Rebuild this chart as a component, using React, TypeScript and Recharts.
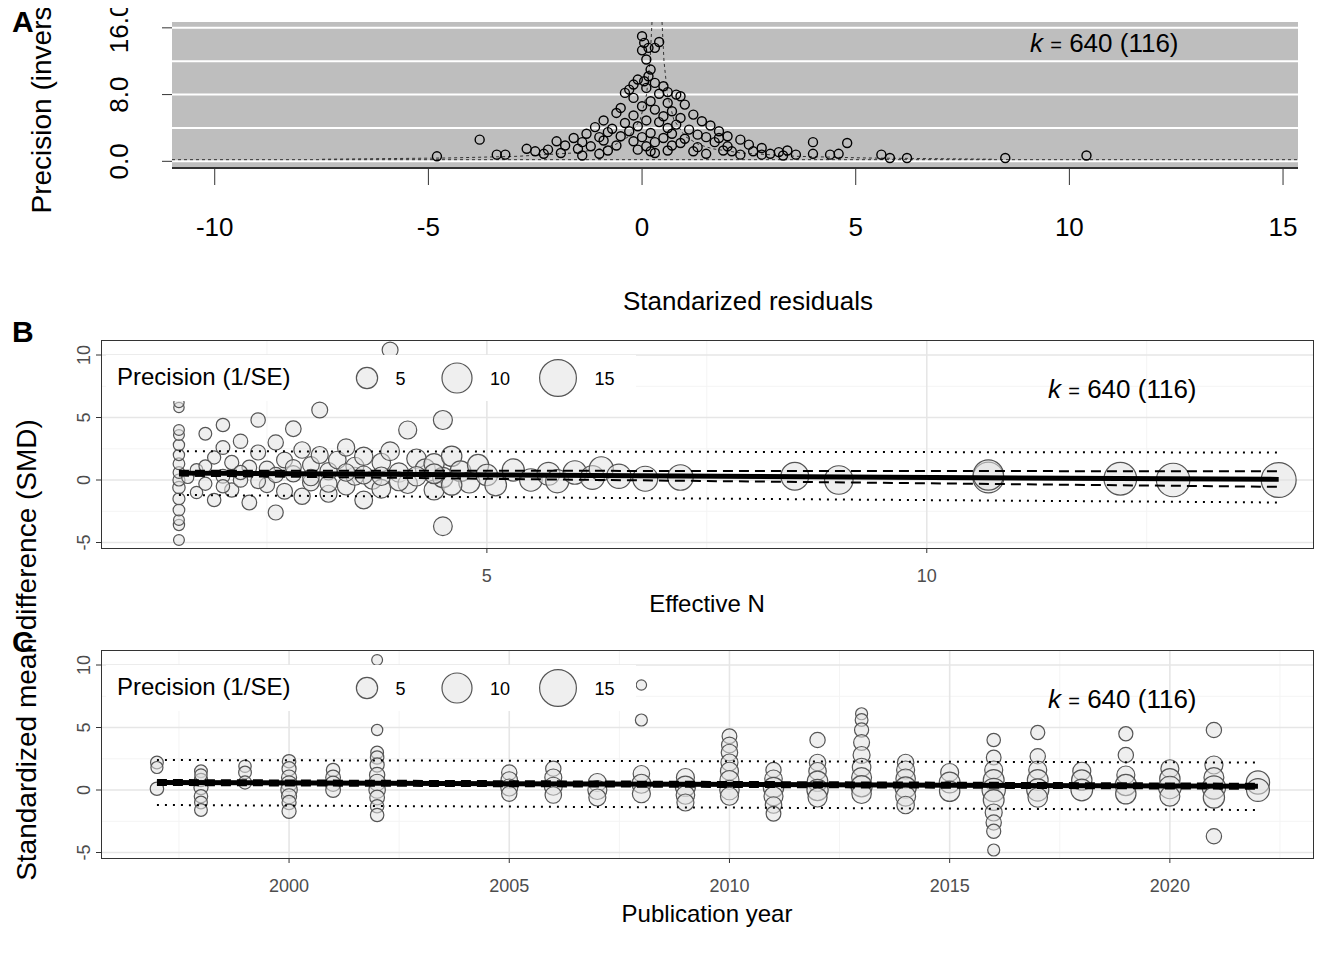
import React from "react";
import {
  ComposedChart,
  Scatter,
  XAxis,
  YAxis,
  ZAxis,
  CartesianGrid,
} from "recharts";

// ---- Panel A: funnel of standardized residuals ----
const residA = [0.0,0.05,0.0,0.15,0.3,0.4,0.1,0.2,0.15,-0.2,-0.1,0.05,0.3,0.5,-0.3,0.6,0.8,0.9,-0.4,0.1,0.4,-0.2,0.2,0.6,1.0,-0.5,0.0,0.3,0.7,1.2,-0.6,-0.2,0.5,0.9,1.4,-0.9,-0.4,0.1,0.4,0.8,1.6,-1.1,-0.7,-0.1,0.6,1.1,1.8,-1.3,-0.8,-0.3,0.2,0.7,1.3,2.0,-1.6,-1.0,-0.5,0.0,0.5,1.0,1.5,2.3,-2.0,-1.4,-0.9,-0.2,0.3,0.9,1.7,2.5,-1.8,-1.2,-0.6,0.1,0.7,1.3,2.0,2.8,-2.2,-1.5,-0.8,-0.1,0.6,1.2,1.9,2.6,3.2,-1.9,-1.0,0.3,1.5,2.3,3.0,3.6,-2.3,-1.4,4.0,4.4,4.6,3.3,2.8,-4.8,-3.8,-3.4,-3.2,-2.7,4.0,4.8,5.6,5.8,6.2,8.5,10.4,0.2,-2.5,1.8,2.1,3.4];
const precA = [15,14.2,13.3,13.6,13.6,14.3,12.2,11,10.2,9.2,9.8,9.6,9.4,9,8.6,8.3,8.0,7.8,8.2,8.8,8.1,7.6,7.2,7.0,6.8,6.4,6.6,6.2,6.0,5.6,5.8,5.5,5.4,5.2,4.8,4.9,4.6,4.9,4.7,4.4,4.3,4.1,3.9,4.2,4.0,3.8,3.6,3.3,3.5,3.6,3.4,3.3,3.2,3.0,2.8,2.9,3.0,2.9,2.8,2.7,2.9,2.6,2.4,2.3,2.5,2.4,2.3,2.2,2.3,2.0,1.9,1.8,1.9,1.8,1.9,1.7,1.8,1.6,1.4,1.5,1.3,1.4,1.3,1.2,1.3,1.2,1.1,1.0,0.9,1.0,0.9,0.8,0.9,0.8,0.9,0.7,0.9,0.8,0.9,0.7,0.8,0.6,2.6,0.8,0.8,1.5,2.3,2.2,0.8,0.4,0.4,0.4,0.7,1.2,1.2,2.8,1.2,1.3];
const funnelCenter = 0.35;
const funnelPrec = [16.7, 12, 8, 5, 3, 2, 1.5, 1, 0.6, 0.4, 0.25];

// ---- Panel B: SMD vs effective N ----
const effN = [1.5,1.5,1.5,1.5,1.5,1.5,1.5,1.5,1.5,1.5,1.5,1.5,1.5,1.5,1.5,1.7,1.7,1.8,1.8,1.9,1.9,2.0,2.0,2.0,2.1,2.1,2.2,2.2,2.3,2.3,2.3,2.4,2.4,2.5,2.5,2.6,2.6,2.7,2.7,2.8,2.8,2.9,2.9,3.0,3.0,3.1,3.1,3.2,3.2,3.3,3.4,3.4,3.5,3.5,3.6,3.6,3.7,3.8,3.8,3.9,3.9,4.0,4.1,4.1,4.2,4.3,4.4,4.4,4.5,4.5,4.5,4.6,4.7,4.8,4.9,5.0,5.1,5.3,5.5,5.7,5.8,6.0,6.2,6.3,6.5,6.8,7.2,8.5,9.0,10.7,10.7,12.2,12.8,14.0,1.6,1.8,2.0,2.2,2.4,2.6,2.8,3.0,3.2,3.4,3.6,3.8,4.0,4.2,4.4,4.6];
const smdB = [-4.8,-3.6,-3.2,-2.4,-1.5,-0.6,0.0,0.6,1.3,2.0,2.8,3.6,4.0,5.8,6.2,-1.0,0.8,3.7,-0.3,1.8,-1.6,4.4,0.3,2.6,-0.8,1.4,3.1,0.0,8.4,-1.8,1.0,4.8,2.2,-0.4,0.9,-2.6,3.0,1.6,-0.9,4.1,0.5,2.4,-1.3,1.2,-0.2,5.6,2.0,0.7,-1.1,1.6,-0.5,2.6,0.3,1.1,-1.6,1.9,0.0,1.4,-0.7,10.4,2.3,0.6,4.0,-0.3,1.7,0.9,-0.8,1.3,4.8,-3.7,0.2,1.9,0.7,-0.2,1.2,0.4,-0.4,0.8,0.0,0.5,-0.1,0.6,0.2,0.9,0.3,0.1,0.2,0.3,0.0,0.2,0.4,0.1,0.0,0.0,0.2,1.1,-0.5,0.6,-0.1,0.4,1.0,0.2,-0.3,0.6,0.4,0.3,-0.1,0.3,0.5,-0.4];
const precB = [1.3,1.4,1.3,1.5,1.6,1.7,1.6,1.5,1.5,1.4,1.4,1.3,1.3,1.2,1.2,1.7,1.8,1.8,1.9,1.9,2.0,2.0,2.1,2.1,2.2,2.2,2.3,2.3,2.0,2.4,2.4,2.3,2.5,2.6,2.6,2.5,2.6,2.8,2.8,2.7,2.9,3.0,2.9,3.1,3.1,2.8,3.2,3.3,3.2,3.4,3.4,3.3,3.6,3.6,3.5,3.7,3.8,3.8,3.9,2.8,3.9,4.1,3.6,4.2,4.2,4.4,4.4,4.5,4.0,3.9,4.6,4.6,4.8,4.9,5.0,5.1,5.2,5.4,5.6,5.8,5.9,6.1,6.3,6.4,6.6,6.9,7.2,8.5,9.0,10.5,10.2,11.8,12.4,13.5,1.6,1.8,2.0,2.2,2.4,2.6,2.8,3.0,3.2,3.4,3.6,3.8,4.0,4.2,4.4,4.6];
const fitBx = [1.5, 14];
const fitBy = [0.55, 0.05];
const ciBup = [0.75, 0.7];
const ciBlo = [0.35, -0.55];
const piBup = [2.3, 2.2];
const piBlo = [-1.2, -1.8];

// ---- Panel C: SMD vs publication year ----
const yearC = [1997,1997,1997,1998,1998,1998,1998,1998,1998,1998,1999,1999,1999,2000,2000,2000,2000,2000,2000,2000,2000,2001,2001,2001,2001,2002,2002,2002,2002,2002,2002,2002,2002,2002,2002,2002,2005,2005,2005,2005,2006,2006,2006,2006,2007,2007,2007,2008,2008,2008,2008,2008,2009,2009,2009,2009,2010,2010,2010,2010,2010,2010,2010,2010,2011,2011,2011,2011,2011,2011,2012,2012,2012,2012,2012,2012,2013,2013,2013,2013,2013,2013,2013,2013,2013,2014,2014,2014,2014,2014,2014,2015,2015,2015,2016,2016,2016,2016,2016,2016,2016,2016,2016,2016,2017,2017,2017,2017,2017,2017,2018,2018,2018,2019,2019,2019,2019,2019,2020,2020,2020,2020,2021,2021,2021,2021,2021,2021,2022,2022];
const smdC = [0.1,2.2,1.8,1.5,0.8,0.2,-0.5,-1.0,-1.6,1.2,1.9,1.4,0.6,2.3,1.7,1.0,0.5,0.0,-0.5,-1.0,-1.7,1.6,1.0,0.5,0.0,10.4,4.8,3.0,2.6,2.0,1.2,0.6,0.0,-0.6,-1.3,-2.0,1.4,0.8,0.2,-0.3,1.7,1.0,0.3,-0.4,0.6,0.0,-0.6,8.4,5.6,1.3,0.5,-0.3,1.0,0.3,-0.4,-1.0,4.3,3.6,3.0,2.2,1.5,0.8,0.0,-0.5,1.6,0.9,0.2,-0.5,-1.2,-1.9,4.0,2.2,1.5,0.7,0.0,-0.6,6.1,5.6,4.8,3.8,2.8,1.8,1.0,0.3,-0.3,2.2,1.6,0.9,0.2,-0.5,-1.2,1.4,0.6,-0.1,4.0,2.6,1.6,0.8,0.0,-0.8,-1.8,-2.6,-3.3,-4.8,4.6,2.7,1.6,0.8,0.0,-0.6,1.5,0.8,0.0,4.5,2.8,1.2,0.4,-0.3,1.7,0.9,0.2,-0.5,4.8,2.0,1.0,0.2,-0.6,-3.7,0.6,0.0];
const precC = [2.0,1.8,1.6,1.8,2,2.2,2.0,1.8,1.8,1.7,1.7,1.8,1.9,2.0,2.2,2.5,2.8,3.0,2.5,2.2,2.2,2.0,2.4,2.6,2.4,1.3,1.4,1.8,2.0,2.2,2.6,3,3.0,2.4,2.0,2.0,2.6,3,3.2,2.6,2.6,3.2,3.6,3.0,3.6,4,3.2,1.2,1.6,3,4,3.6,3.6,4.6,3.8,3.2,2.4,2.8,3.0,3.2,3.6,4,4.2,3.6,2.6,3.4,4.6,4.0,3.0,2.4,2.6,3.0,3.4,4.6,5,4,1.6,1.8,2.2,2.8,3.2,3.8,4.4,5,4.2,3.0,3.6,4.2,5,4.4,3.4,3.6,4.8,4.6,2.0,2.4,3.6,4.8,6,4.8,3.2,2.6,2.2,1.6,2.2,2.6,3.6,4.8,5.4,4.2,3.6,4.6,5.2,2.2,2.6,3.6,5,4.6,3.6,4.6,5.6,4.4,2.6,3.6,4.4,6,5,2.6,6,5.8];
const fitCx = [1997, 2022];
const fitCy = [0.6, 0.3];
const ciCup = [0.8, 0.5];
const ciClo = [0.4, 0.1];
const piCup = [2.4, 2.2];
const piClo = [-1.2, -1.6];

const FONT = "'Liberation Sans', Arial, sans-serif";
const zRange: [number, number] = [0, 1134];
const legendR = (p: number) => Math.sqrt(((p / 16) * 1134) / Math.PI);

const pts = (xs: number[], ys: number[], zs?: number[]) =>
  xs.map((x, i) => ({ x, y: ys[i], z: zs ? zs[i] : 1 }));

const bubble = (props: any) => {
  const { cx, cy, width } = props;
  return (
    <circle cx={cx} cy={cy} r={width / 2} fill="rgba(225,225,225,0.55)" stroke="#555" strokeWidth={1.2} />
  );
};
const hollow = (props: any) => (
  <circle cx={props.cx} cy={props.cy} r={4.5} fill="none" stroke="#000" strokeWidth={1.4} />
);
const none = () => null;

function makeYTick(lineX0: number, lineX1: number, textX: number, size: number, color: string, fmt: (v: number) => string) {
  return (p: any) => (
    <g>
      <line x1={lineX0} x2={lineX1} y1={p.y} y2={p.y} stroke="#333" />
      <text x={textX} y={p.y} transform={`rotate(-90, ${textX}, ${p.y})`} textAnchor="middle" fontSize={size} fill={color} fontFamily={FONT}>
        {fmt(p.payload.value)}
      </text>
    </g>
  );
}
function makeXTick(lineY0: number, lineY1: number, textY: number, size: number, color: string) {
  return (p: any) => (
    <g>
      <line x1={p.x} x2={p.x} y1={lineY0} y2={lineY1} stroke="#333" />
      <text x={p.x} y={textY} textAnchor="middle" fontSize={size} fill={color} fontFamily={FONT}>
        {p.payload.value}
      </text>
    </g>
  );
}

function Legend({ top }: { top: number }) {
  const items = [5, 10, 15];
  const xs = [367, 457, 558];
  return (
    <div style={{ position: "absolute", left: 106, top, width: 530, height: 46, background: "#fff" }}>
      <div style={{ position: "absolute", left: 11, top: 8, fontSize: 24 }}>Precision (1/SE)</div>
      <svg width={530} height={46} style={{ position: "absolute", left: 0, top: 0 }}>
        {items.map((p, i) => (
          <g key={p}>
            <circle cx={xs[i] - 106} cy={23} r={legendR(p)} fill="rgba(225,225,225,0.55)" stroke="#555" strokeWidth={1.2} />
            <text x={xs[i] - 106 + legendR(p) + 18} y={30} fontSize={18} fontFamily={FONT}>{p}</text>
          </g>
        ))}
      </svg>
    </div>
  );
}

function KLabel({ left, top }: { left: number; top: number }) {
  return (
    <div style={{ position: "absolute", left, top, fontSize: 26, whiteSpace: "nowrap" }}>
      <i>k</i> <span style={{ fontSize: 20 }}>=</span> 640 (116)
    </div>
  );
}

function SmdPanel({ top, xDomain, xTicks, vMinor, data, fx, fy, cu, cl, pu, pl }: any) {
  return (
    <div style={{ position: "absolute", left: 0, top }}>
      <ComposedChart width={1344} height={310} margin={{ top: 20, right: 31, left: 61, bottom: 42 }}>
        <CartesianGrid stroke="#f4f4f4" strokeWidth={1} horizontalValues={[-2.5, 2.5, 7.5]} verticalValues={vMinor} />
        <CartesianGrid stroke="#e6e6e6" strokeWidth={1.6} horizontalValues={[-5, 0, 5, 10]} verticalValues={xTicks} />
        <XAxis type="number" dataKey="x" domain={xDomain} ticks={xTicks} allowDataOverflow height={40}
          axisLine={false} tickLine={false} tick={makeXTick(228, 233, 262, 18, "#4d4d4d")} />
        <YAxis type="number" dataKey="y" domain={[-5.44, 11.2]} ticks={[-5, 0, 5, 10]} allowDataOverflow width={40}
          axisLine={false} tickLine={false} tick={makeYTick(96, 101, 90, 18, "#4d4d4d", (v) => String(v))} />
        <ZAxis type="number" dataKey="z" domain={[0, 16]} range={zRange} />
        <Scatter data={data} shape={bubble} isAnimationActive={false} />
        <Scatter data={pts(fx, pu)} shape={none} line={{ stroke: "#000", strokeWidth: 2, strokeDasharray: "2 6" }} isAnimationActive={false} />
        <Scatter data={pts(fx, pl)} shape={none} line={{ stroke: "#000", strokeWidth: 2, strokeDasharray: "2 6" }} isAnimationActive={false} />
        <Scatter data={pts(fx, fy)} shape={none} line={{ stroke: "#000", strokeWidth: 5 }} isAnimationActive={false} />
        <Scatter data={pts(fx, cu)} shape={none} line={{ stroke: "#000", strokeWidth: 2, strokeDasharray: "10 6" }} isAnimationActive={false} />
        <Scatter data={pts(fx, cl)} shape={none} line={{ stroke: "#000", strokeWidth: 2, strokeDasharray: "10 6" }} isAnimationActive={false} />
      </ComposedChart>
      <div style={{ position: "absolute", left: 101, top: 20, width: 1211, height: 207, border: "1px solid #333" }} />
    </div>
  );
}

export default function App() {
  const funnelL = funnelPrec.map((p) => ({ x: funnelCenter - 1.96 / p, y: p }));
  const funnelR = funnelPrec.map((p) => ({ x: funnelCenter + 1.96 / p, y: p }));
  return (
    <div style={{ position: "relative", margin: "-8px 0 0 -8px", width: 1344, height: 960, overflow: "hidden", fontFamily: FONT, color: "#000" }}>
      <div style={{ position: "absolute", left: 0, top: 0 }}>
        <ComposedChart width={1344} height={330} margin={{ top: 22, right: 46, left: 112, bottom: 102 }}>
          <CartesianGrid fill="#bebebe" stroke="#fff" strokeWidth={2} vertical={false} horizontalValues={[0, 4, 8, 12, 16]} />
          <XAxis type="number" dataKey="x" domain={[-11, 15.35]} ticks={[-10, -5, 0, 5, 10, 15]} allowDataOverflow height={60}
            axisLine={{ stroke: "#333", strokeWidth: 2 }} tickLine={false} tick={makeXTick(168, 185, 236, 26, "#000")} />
          <YAxis type="number" dataKey="y" domain={[-0.8, 16.7]} ticks={[0, 8, 16]} allowDataOverflow width={60}
            axisLine={false} tickLine={false} tick={makeYTick(162, 172, 128, 26, "#000", (v) => v.toFixed(1))} />
          <Scatter data={funnelL} shape={none} line={{ stroke: "#333", strokeDasharray: "3 3" }} isAnimationActive={false} />
          <Scatter data={funnelR} shape={none} line={{ stroke: "#333", strokeDasharray: "3 3" }} isAnimationActive={false} />
          <Scatter data={pts([-11, 15.35], [0.2, 0.2])} shape={none} line={{ stroke: "#333", strokeDasharray: "3 3" }} isAnimationActive={false} />
          <Scatter data={pts(residA, precA)} shape={hollow} isAnimationActive={false} />
        </ComposedChart>
      </div>
      <KLabel left={1030} top={28} />
      <div style={{ position: "absolute", left: 0, width: 1496, top: 286, textAlign: "center", fontSize: 26 }}>Standarized residuals</div>

      <SmdPanel top={320} xDomain={[0.614, 14.39]} xTicks={[5, 10]} vMinor={[2.5, 7.5, 12.5]}
        data={pts(effN, smdB, precB)} fx={fitBx} fy={fitBy} cu={ciBup} cl={ciBlo} pu={piBup} pl={piBlo} />
      <Legend top={355} />
      <KLabel left={1048} top={374} />
      <div style={{ position: "absolute", left: 0, width: 1414, top: 590, textAlign: "center", fontSize: 24 }}>Effective N</div>

      <SmdPanel top={630} xDomain={[1995.73, 2023.25]} xTicks={[2000, 2005, 2010, 2015, 2020]}
        vMinor={[1997.5, 2002.5, 2007.5, 2012.5, 2017.5, 2022.5]}
        data={pts(yearC, smdC, precC)} fx={fitCx} fy={fitCy} cu={ciCup} cl={ciClo} pu={piCup} pl={piClo} />
      <Legend top={665} />
      <KLabel left={1048} top={684} />
      <div style={{ position: "absolute", left: 0, width: 1414, top: 900, textAlign: "center", fontSize: 24 }}>Publication year</div>

      <svg width={1344} height={960} style={{ position: "absolute", left: 0, top: 0, pointerEvents: "none" }}>
        <text x={51} y={75} transform="rotate(-90, 51, 75)" textAnchor="middle" fontSize={28} fontFamily={FONT}>
          Precision (inverse SE)
        </text>
        <text x={36} y={650} transform="rotate(-90, 36, 650)" textAnchor="middle" fontSize={28} fontFamily={FONT}>
          Standardized mean difference (SMD)
        </text>
        <text x={12} y={32} fontSize={30} fontWeight="bold" fontFamily={FONT}>A</text>
        <text x={12} y={342} fontSize={30} fontWeight="bold" fontFamily={FONT}>B</text>
        <text x={12} y={652} fontSize={30} fontWeight="bold" fontFamily={FONT}>C</text>
      </svg>
    </div>
  );
}
